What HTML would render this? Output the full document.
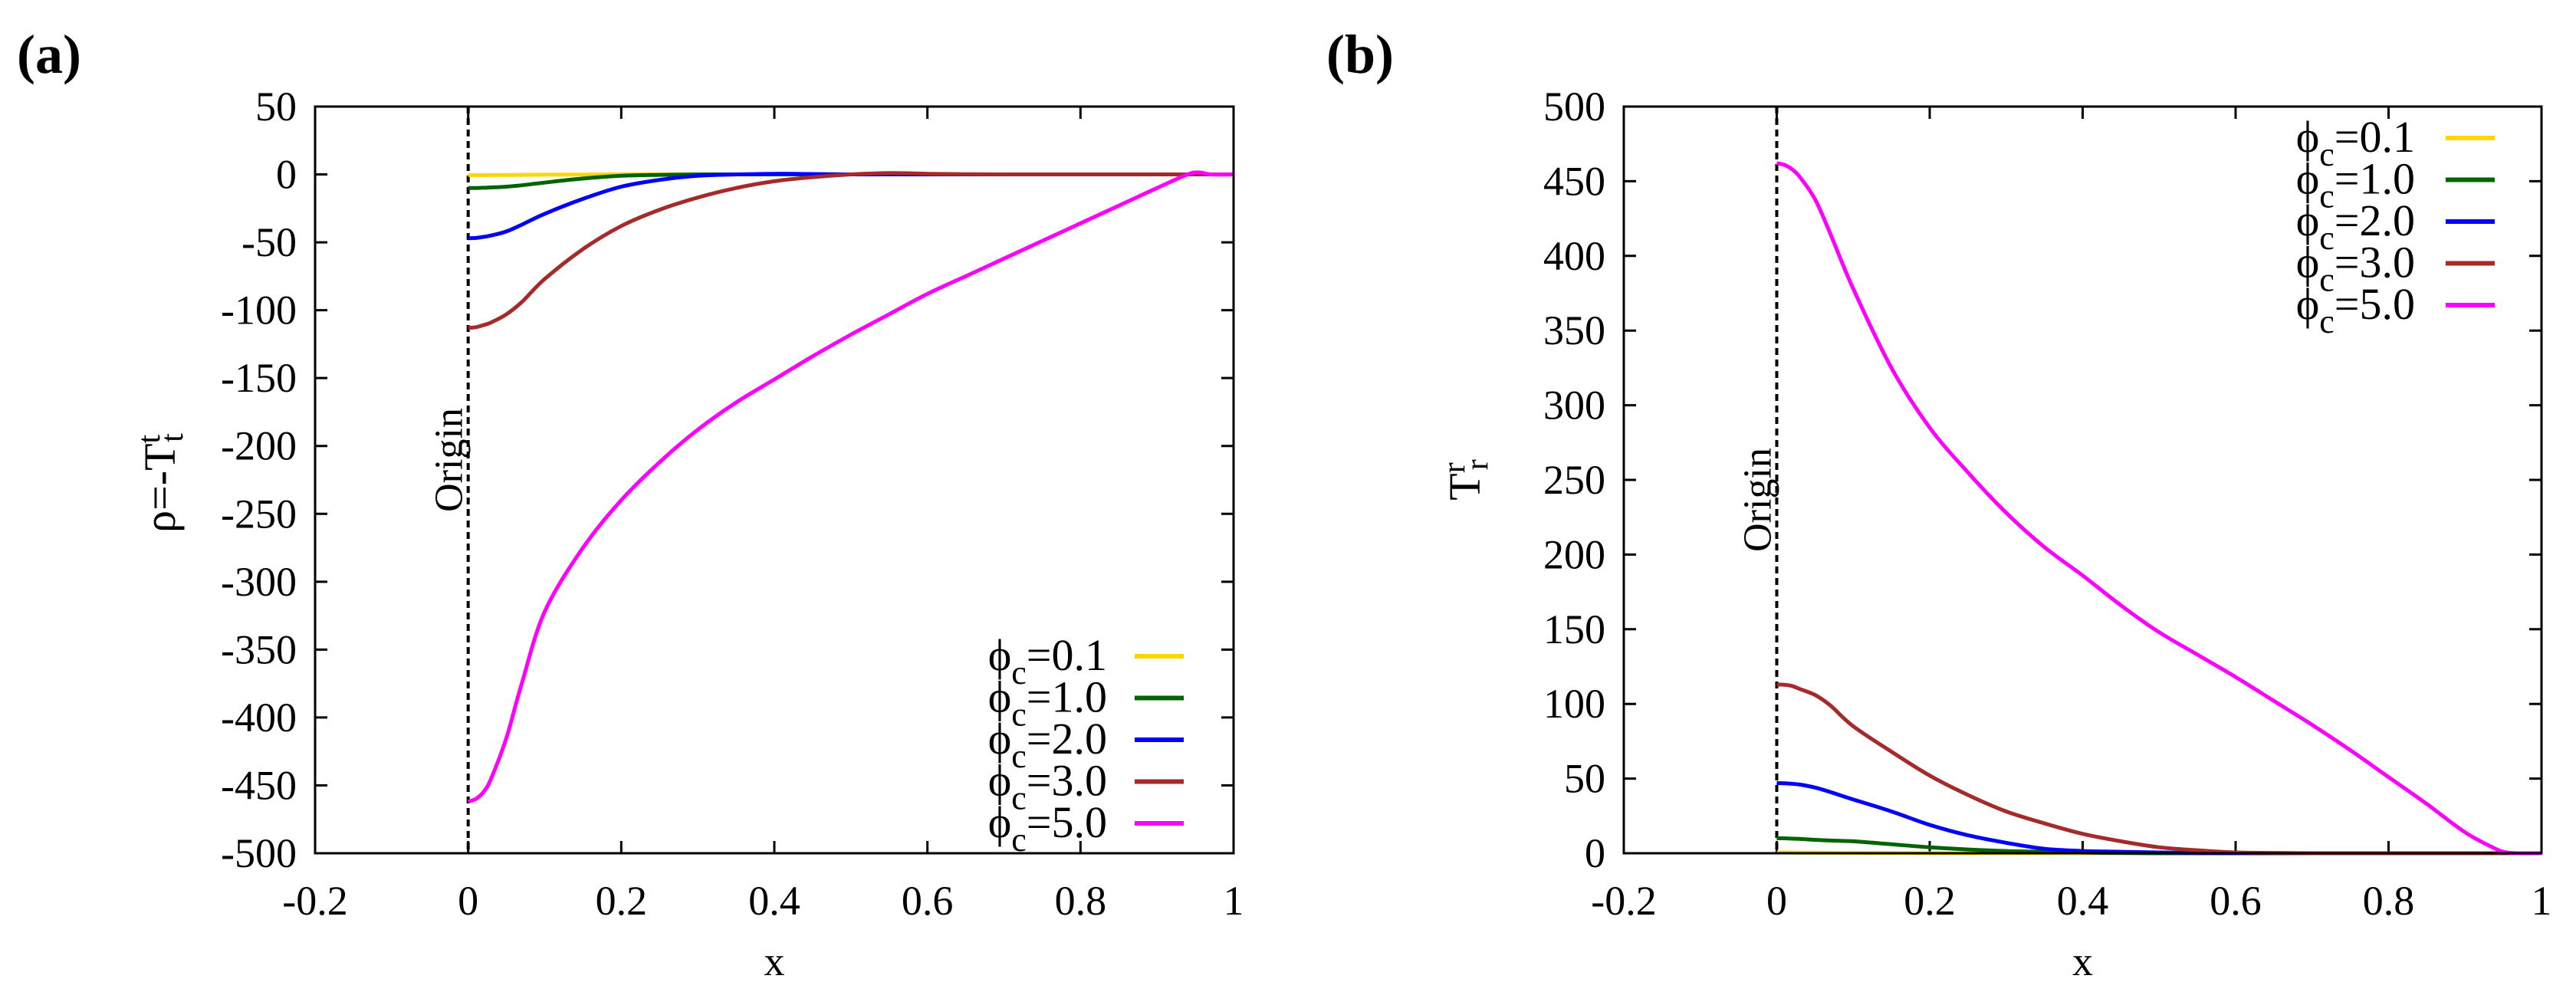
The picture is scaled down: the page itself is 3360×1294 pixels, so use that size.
<!DOCTYPE html>
<html><head><meta charset="utf-8"><style>
html,body{margin:0;padding:0;background:#fff;}
svg{display:block;font-family:"Liberation Serif",serif;}
</style></head><body>
<svg id="chart" width="3360" height="1294" viewBox="0 0 3360 1294" xmlns="http://www.w3.org/2000/svg"></svg>
<script>
const xs = [0,0.01,0.02,0.03,0.05,0.07,0.1,0.15,0.2,0.25,0.3,0.35,0.4,0.45,0.5,0.55,0.6,0.65,0.7,0.75,0.8,0.85,0.9,0.94,0.955,0.97,1];
const labels = ["ϕc=0.1","ϕc=1.0","ϕc=2.0","ϕc=3.0","ϕc=5.0"];
const colors = ["#ffd700","#006400","#0000ff","#a52a2a","#ff00ff"];
const rhoA_01 = [-0.5,-0.5,-0.5,-0.4,-0.4,-0.3,-0.2,-0.1,0,0,0,0,0,0,0,0,0,0,0,0,0,0,0,0,0,0,0];
const rhoA_1 = [-10,-10,-9.8,-9.6,-9,-8,-6,-3,-1,-0.3,0,0,0,0,0,0,0,0,0,0,0,0,0,0,0,0,0];
const rhoA_2 = [-47,-46.8,-46,-45,-42,-37,-29,-18,-9,-4,-1,0,0.5,0.3,0,0,0,0,0,0,0,0,0,0,0,0,0];
const rhoA_3 = [-113,-112.5,-111,-109,-103,-94,-77,-55,-38,-26,-17,-10,-5,-2,0,1,0.5,0.2,0,0,0,0,0,0,0,0,0];
const rhoA_5 = [-462,-460,-455,-445,-415,-375,-322,-275,-240,-212,-188,-168,-151,-134,-118,-103,-88,-75,-62,-49,-36,-23,-10,0,1.5,0,0];
const trB_01 = [0.5,0.5,0.5,0.4,0.4,0.3,0.2,0.1,0,0,0,0,0,0,0,0,0,0,0,0,0,0,0,0,0,0,0];
const trB_1 = [10,10,9.8,9.6,9,8.5,8,6,4,2.5,1.5,1,0.5,0.2,0,0,0,0,0,0,0,0,0,0,0,0,0];
const trB_2 = [47,46.8,46.5,46,44,41,36,28,19,12,7,3,1.5,1,0.5,0.2,0,0,0,0,0,0,0,0,0,0,0];
const trB_3 = [113,112.8,112,110,106,99,85,68,52,39,28,20,13,8,4,2,0.5,0.2,0,0,0,0,0,0,0,0,0];
const trB_5 = [462,461,458,453,438,415,378,325,285,255,228,205,186,166,148,133,118,102,86,69,51,33,14,3,0.5,0,0];
const xTicks = ["-0.2","0","0.2","0.4","0.6","0.8","1"];
const xTickVals = [-0.2,0,0.2,0.4,0.6,0.8,1];
const yTicksA = [50,0,-50,-100,-150,-200,-250,-300,-350,-400,-450,-500];
const yTicksB = [500,450,400,350,300,250,200,150,100,50,0];

const NS="http://www.w3.org/2000/svg";
const svg=document.getElementById('chart');
function mk(tag,attrs,parent,text){const e=document.createElementNS(NS,tag);for(const k in attrs)e.setAttribute(k,attrs[k]);if(text!==undefined)e.textContent=text;(parent||svg).appendChild(e);return e;}
function smooth(P){
  let d=`M${P[0][0].toFixed(1)},${P[0][1].toFixed(1)}`;
  for(let i=0;i<P.length-1;i++){
    const p0=P[i-1]||P[i],p1=P[i],p2=P[i+1],p3=P[i+2]||P[i+1];
    const c1=[p1[0]+(p2[0]-p0[0])/6,p1[1]+(p2[1]-p0[1])/6];
    const c2=[p2[0]-(p3[0]-p1[0])/6,p2[1]-(p3[1]-p1[1])/6];
    d+=`C${c1[0].toFixed(1)},${c1[1].toFixed(1)} ${c2[0].toFixed(1)},${c2[1].toFixed(1)} ${p2[0].toFixed(1)},${p2[1].toFixed(1)}`;
  }
  return d;
}

function panel(cfg){
  const g=mk('g',{});
  
  
  const L=cfg.L,R=cfg.R,T=139,B=1113;
  const sx=v=>L+(v+0.2)/1.2*(R-L);
  const sy=v=>T+(cfg.ymax-v)/(cfg.ymax-cfg.ymin)*(B-T);
  xTickVals.forEach((v,i)=>{
    const x=sx(v);
    const t1=mk('path',{d:`M${x},${B}v-16M${x},${T}v16`,stroke:'#000','stroke-width':3},g);
    
    
    const tl=mk('text',{x:x,y:1193,'font-size':54,'text-anchor':'middle'},g,xTicks[i]);
    
    
  });
  cfg.yTicks.forEach(v=>{
    const y=sy(v);
    const t1=mk('path',{d:`M${L},${y}h16M${R},${y}h-16`,stroke:'#000','stroke-width':3},g);
    
    
    const tl=mk('text',{x:L-24,y:y+18,'font-size':54,'text-anchor':'end'},g,String(v));
    
    
  });
  const ox=sx(0);
  const ol=mk('line',{x1:ox,y1:T,x2:ox,y2:B,stroke:'#000','stroke-width':4,'stroke-dasharray':'9,6'},g);
  
  
  const ot=mk('text',{x:0,y:0,'font-size':52,'text-anchor':'middle',transform:`translate(${ox-8},${cfg.originY}) rotate(-90)`},g,'Origin');
  
  
  cfg.series.forEach((s,i)=>{
    const P=xs.map((x,j)=>[sx(x),sy(s[j])]);
    const p=mk('path',{d:smooth(P),fill:'none',stroke:colors[i],'stroke-width':5,'stroke-linejoin':'round'},g);
    
    
  });
  const fr=mk('rect',{x:L,y:T,width:R-L,height:B-T,fill:'none',stroke:'#000','stroke-width':3},g);
  
  
  labels.forEach((lb,i)=>{
    const y=cfg.legY+i*54.5;
    const t=mk('text',{x:cfg.legTextR,y:y+18,'font-size':58,'text-anchor':'end'},g);
    
    
    mk('tspan',{},t,'ϕ');
    mk('tspan',{dy:18,'font-size':44},t,'c');
    mk('tspan',{dy:-18},t,lb.slice(2));
    const ln=mk('line',{x1:cfg.legL,x2:cfg.legL+64,y1:y,y2:y,stroke:colors[i],'stroke-width':6},g);
    
    
  });
  const xt=mk('text',{x:(L+R)/2,y:1272,'font-size':54,'text-anchor':'middle'},g,'x');
  
  
  const yt=mk('text',{x:0,y:0,'font-size':58,'text-anchor':'middle',transform:`translate(${cfg.ytX},${cfg.ytY}) rotate(-90)`},g);
  
  
  mk('tspan',{},yt,cfg.ytMain);
  mk('tspan',{dy:-20,'font-size':42},yt,cfg.ytSup);
  mk('tspan',{dy:30,dx:-10,'font-size':42},yt,cfg.ytSub);
  const pl=mk('text',{x:cfg.plX,y:95,'font-size':72,'font-weight':'bold'},g,cfg.plText);
  
  
}

panel({name:'panel-a-rho',L:411,R:1609,ymin:-500,ymax:50,yTicks:yTicksA,series:[rhoA_01,rhoA_1,rhoA_2,rhoA_3,rhoA_5],
  originY:600,legY:856,legTextR:1444,legL:1480,ytX:228,ytY:630,ytMain:'ρ=-T',ytSup:'t',ytSub:'t',plX:22,plText:'(a)'});
panel({name:'panel-b-tr',L:2118,R:3315,ymin:0,ymax:500,yTicks:yTicksB,series:[trB_01,trB_1,trB_2,trB_3,trB_5],
  originY:652,legY:180,legTextR:3150,legL:3190,ytX:1930,ytY:626,ytMain:'T',ytSup:'r',ytSub:'r',plX:1730,plText:'(b)'});
</script>
</body></html>
